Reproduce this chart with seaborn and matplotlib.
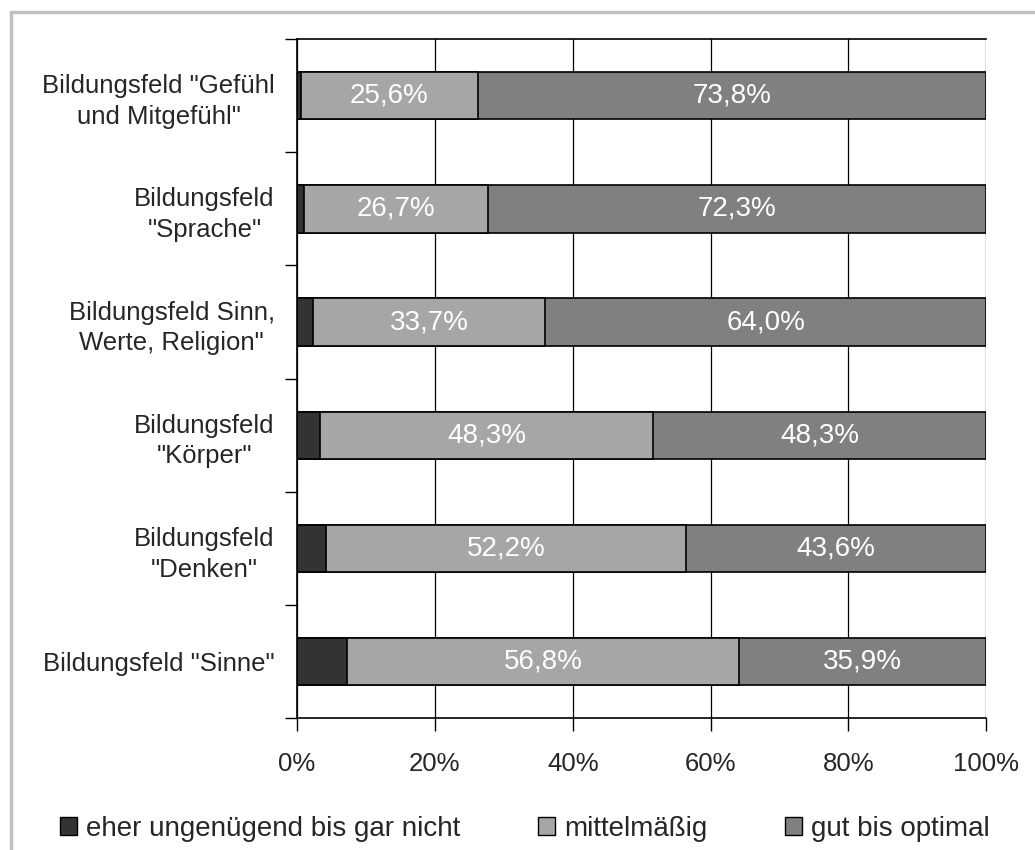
import pandas as pd
import seaborn as sns
import matplotlib.pyplot as plt
from matplotlib.patches import Patch, Rectangle
from matplotlib.ticker import FixedLocator, PercentFormatter

sns.set_style('white')
plt.rcParams['font.family'] = ['Liberation Sans', 'DejaVu Sans']

categories = ['Bildungsfeld "Gefühl\nund Mitgefühl"',
              'Bildungsfeld\n"Sprache"',
              'Bildungsfeld Sinn,\nWerte, Religion"',
              'Bildungsfeld\n"Körper"',
              'Bildungsfeld\n"Denken"',
              'Bildungsfeld "Sinne"']
ungenuegend = [0.6, 1.0, 2.3, 3.4, 4.2, 7.3]
mittel = [25.6, 26.7, 33.7, 48.3, 52.2, 56.8]
gut = [73.8, 72.3, 64.0, 48.3, 43.6, 35.9]
series_names = ['eher ungenügend bis gar nicht', 'mittelmäßig', 'gut bis optimal']
colors = ['#333333', '#a6a6a6', '#808080']

df = pd.DataFrame({'tag': categories, 'u': ungenuegend, 'm': mittel, 'g': gut})
df['c1'] = df['u']
df['c2'] = df['u'] + df['m']
df['c3'] = df['u'] + df['m'] + df['g']

FS = 18.5

fig = plt.figure(figsize=(10.35, 8.5), dpi=100)
ax = fig.add_axes([0.287, 0.155, 0.666, 0.799])

# stacked bars: draw cumulative totals from back to front
for col, c in zip(['c3', 'c2', 'c1'], colors[::-1]):
    sns.barplot(x=col, y='tag', data=df, color=c, width=0.42, edgecolor='black',
                linewidth=1.2, ax=ax, orient='h', saturation=1)

# value labels for the two larger segments
for i, row in df.iterrows():
    ax.text(row['u'] + row['m'] / 2, i, f"{row['m']:.1f}%".replace('.', ','),
            ha='center', va='center', color='white', fontsize=20)
    ax.text(row['c2'] + row['g'] / 2, i, f"{row['g']:.1f}%".replace('.', ','),
            ha='center', va='center', color='white', fontsize=20)

ax.set_xlim(0, 100)
ax.set_ylim(5.5, -0.5)
ax.xaxis.set_major_locator(FixedLocator([0, 20, 40, 60, 80, 100]))
ax.xaxis.set_major_formatter(PercentFormatter(decimals=0))
ax.grid(axis='x', color='black', linewidth=0.9)
ax.set_axisbelow(True)
ax.set_xlabel('')
ax.set_ylabel('')

# y ticks at category boundaries, labels centred
ax.yaxis.set_minor_locator(FixedLocator([-0.5, 0.5, 1.5, 2.5, 3.5, 4.5, 5.5]))
ax.tick_params(axis='y', which='major', length=0, labelsize=FS, pad=16)
ax.tick_params(axis='y', which='minor', length=9, width=1, color='black', direction='out', left=True)
ax.tick_params(axis='x', length=9, width=1, color='black', direction='out', bottom=True,
               labelsize=FS, pad=15)
for lbl in ax.get_yticklabels():
    lbl.set_multialignment('center')
    lbl.set_linespacing(1.35)

for s in ['left', 'top', 'bottom']:
    ax.spines[s].set_color('black')
    ax.spines[s].set_linewidth(1.2)
ax.spines['right'].set_visible(False)

# legend entries spread like the original
for name, c, xpos in zip(series_names, colors, [0.058, 0.520, 0.758]):
    fig.legend([Patch(facecolor=c, edgecolor='black', linewidth=1)], [name],
               loc='center left', bbox_to_anchor=(xpos, 0.025), frameon=False,
               fontsize=20, handlelength=0.62, handleheight=0.62, handletextpad=0.32,
               borderpad=0, borderaxespad=0)

fig.patches.append(Rectangle((0.0106, -0.1), 1.2, 1.086, transform=fig.transFigure,
                             fill=False, edgecolor='#c0c0c0', linewidth=2.5))

plt.savefig('out.png', dpi=100)
